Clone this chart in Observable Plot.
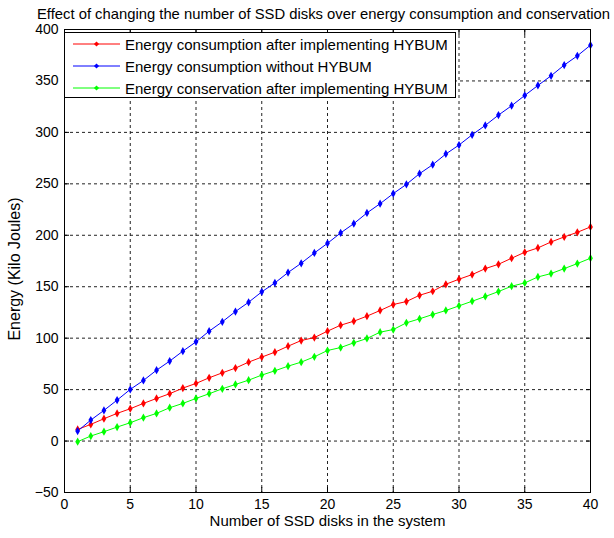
<!DOCTYPE html>
<html><head><meta charset="utf-8">
<script src="https://cdn.jsdelivr.net/npm/d3@7"></script>
<script src="https://cdn.jsdelivr.net/npm/@observablehq/plot@0.6"></script>
<style>
body{margin:0;background:#fff;font-family:"Liberation Sans",Arial,sans-serif;}
#wrap{position:relative;width:614px;height:538px;overflow:hidden;}
#legend{position:absolute;left:64px;top:32px;width:392px;height:66px;border:1px solid #000;background:#fff;box-sizing:border-box;}
.lrow{position:absolute;left:0;height:22px;display:flex;align-items:center;}
.lrow svg{margin-left:8px;margin-right:5px;}
.lrow span{font-size:15px;color:#000;white-space:nowrap;}
</style></head><body><div id="wrap"></div>
<script>
const disks = [1,2,3,4,5,6,7,8,9,10,11,12,13,14,15,16,17,18,19,20,21,22,23,24,25,26,27,28,29,30,31,32,33,34,35,36,37,38,39,40];
const consumptionWith = [11.3,16.2,21.7,26.9,31.4,36.6,41.4,46.0,51.5,56.0,61.5,66.3,70.9,76.7,81.6,86.4,92.2,97.7,100.6,106.8,112.6,116.5,121.4,126.9,132.7,135.6,141.7,145.6,152.4,157.3,161.8,167.6,171.8,177.7,183.5,187.7,193.5,198.4,202.9,208.1];
const consumptionWithout = [9.7,20.4,29.8,39.8,50.2,58.9,68.9,77.7,87.4,96.4,106.8,115.9,125.9,134.9,145.0,153.7,163.8,172.8,182.8,192.2,202.3,211.3,221.7,230.7,240.5,249.5,259.9,268.6,279.0,287.7,297.7,306.8,316.8,325.9,335.9,345.6,355.0,365.4,374.4,384.8];
const conservation = [-0.6,4.9,9.1,13.6,17.8,22.7,26.9,32.4,36.6,41.4,46.0,50.8,55.0,59.2,64.1,68.3,72.8,76.7,81.9,88.0,90.9,95.5,99.7,105.8,108.4,114.9,118.8,123.0,126.9,131.4,135.9,140.5,145.3,150.5,153.7,159.5,162.8,167.6,172.5,177.7];
const seriesNames = ["Energy consumption after implementing HYBUM","Energy consumption without HYBUM","Energy conservation after implementing HYBUM"];
const seriesColors = ["#ff0000","#0000ff","#00ff00"];
const xTicks = [0,5,10,15,20,25,30,35,40];
const yTicks = [-50,0,50,100,150,200,250,300,350,400];
const titleText = "Effect of changing the number of SSD disks over energy consumption and conservation";
const xLabel = "Number of SSD disks in the system";
const yLabel = "Energy (Kilo Joules)";

const seriesValues = [consumptionWith, consumptionWithout, conservation];
const rows = [];
seriesNames.forEach((name, i) => disks.forEach((d, j) => rows.push({series: name, disks: d, energy: seriesValues[i][j]})));

const gridStyle = {stroke: "#222", strokeOpacity: 1, strokeWidth: 1, strokeDasharray: "3,3"};
const plot = Plot.plot({
  width: 614, height: 538,
  marginLeft: 64, marginRight: 24, marginTop: 29, marginBottom: 46,
  style: {fontFamily: "'Liberation Sans', Arial, sans-serif", fontSize: "14px", color: "#000", background: "#fff"},
  x: {domain: [0, 40]},
  y: {domain: [-50, 400]},
  color: {domain: seriesNames, range: seriesColors},
  marks: [
    Plot.gridX(xTicks.slice(1, -1), gridStyle),
    Plot.gridY(yTicks.slice(1, -1), gridStyle),
    Plot.line(rows, {x: "disks", y: "energy", z: "series", stroke: "series", strokeWidth: 1}),
    Plot.dot(rows, {x: "disks", y: "energy", fill: "series", symbol: "diamond", r: 2.5}),
    Plot.axisX(xTicks, {tickSize: 0, tickPadding: 7, label: null, fontSize: 14}),
    Plot.axisX(xTicks, {tickSize: -5, tickFormat: () => "", label: null}),
    Plot.axisX(xTicks, {anchor: "top", tickSize: -5, tickFormat: () => "", label: null}),
    Plot.axisY(yTicks, {tickSize: 0, tickPadding: 6, label: null, fontSize: 14}),
    Plot.axisY(yTicks, {tickSize: -5, tickFormat: () => "", label: null}),
    Plot.axisY(yTicks, {anchor: "right", tickSize: -5, tickFormat: () => "", label: null}),
    Plot.frame({stroke: "#000", strokeWidth: 1}),
    Plot.text([titleText], {frameAnchor: "top", dy: -21, dx: -4, text: d => d, fontSize: 14.8, fill: "#000"}),
    Plot.text([xLabel], {frameAnchor: "bottom", dy: 33, text: d => d, fontSize: 15, fill: "#000"}),
    Plot.text([yLabel], {frameAnchor: "left", textAnchor: "middle", dx: -50, dy: 8, rotate: -90, text: d => d, fontSize: 16, fill: "#000"})
  ]
});
const wrap = document.getElementById("wrap");
wrap.appendChild(plot);

const legend = document.createElement("div");
legend.id = "legend";
seriesNames.forEach((name, i) => {
  const row = document.createElement("div");
  row.className = "lrow";
  row.style.top = (i * 22) + "px";
  const c = seriesColors[i];
  row.innerHTML = `<svg width="47" height="10"><line x1="0" y1="5" x2="47" y2="5" stroke="${c}" stroke-width="1"/><path d="M23.5,2.4L26.1,5L23.5,7.6L20.9,5Z" fill="${c}"/></svg><span>${name}</span>`;
  legend.appendChild(row);
});
wrap.appendChild(legend);
</script></body></html>
